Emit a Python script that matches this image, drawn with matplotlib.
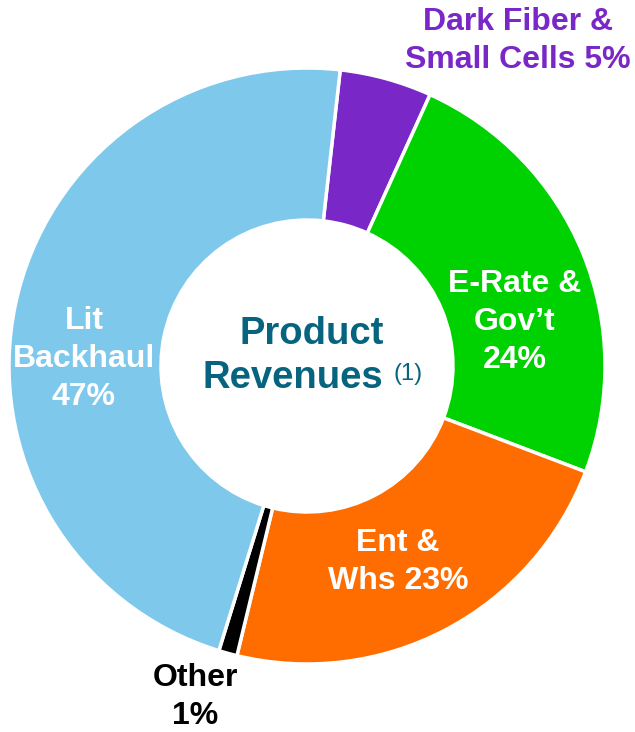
import matplotlib.pyplot as plt

plt.rcParams['font.family'] = ['Liberation Sans', 'DejaVu Sans']

# product revenue mix, clockwise from top
segments = ['Dark Fiber & Small Cells', 'E-Rate & Gov\u2019t', 'Ent & Whs', 'Other', 'Lit Backhaul']
shares = [5, 24, 23, 1, 47]
colors = ['#7A27C7', '#00D100', '#FF6D00', '#000000', '#7EC9EB']

fig = plt.figure(figsize=(6.35, 7.32), dpi=100)
ax = fig.add_axes([0, 0, 1, 1])

H = 732  # image height, used to place text from top-down pixel coords

ax.pie(shares, colors=colors, startangle=83.6, counterclock=False,
       radius=298, center=(307, H - 366),
       wedgeprops=dict(width=152, edgecolor='white', linewidth=2.5))
ax.set_xlim(0, 635)
ax.set_ylim(0, H)
ax.set_aspect('equal')
ax.axis('off')

lbl = dict(fontsize=23, fontweight='bold', ha='center', va='center', linespacing=1.34)

ax.text(518, H - 41, 'Dark Fiber &\nSmall Cells 5%', color='#7A27C7', **lbl)
ax.text(515, H - 322, 'E-Rate &\nGov\u2019t\n24%', color='white', **lbl)
ax.text(398, H - 562, 'Ent &\nWhs 23%', color='white', **lbl)
ax.text(195, H - 697, 'Other\n1%', color='black', **lbl)
ax.text(84, H - 359, 'Lit\nBackhaul\n47%', color='white', **lbl)

title_color = '#07647F'
ax.text(312, H - 334, 'Product', color=title_color, fontsize=27.5,
        fontweight='bold', ha='center', va='center')
ax.text(293, H - 378, 'Revenues', color=title_color, fontsize=27.5,
        fontweight='bold', ha='center', va='center')
ax.text(408, H - 374, '(1)', color=title_color, fontsize=17,
        ha='center', va='center')

fig.savefig('out.png', dpi=100, facecolor='white')
